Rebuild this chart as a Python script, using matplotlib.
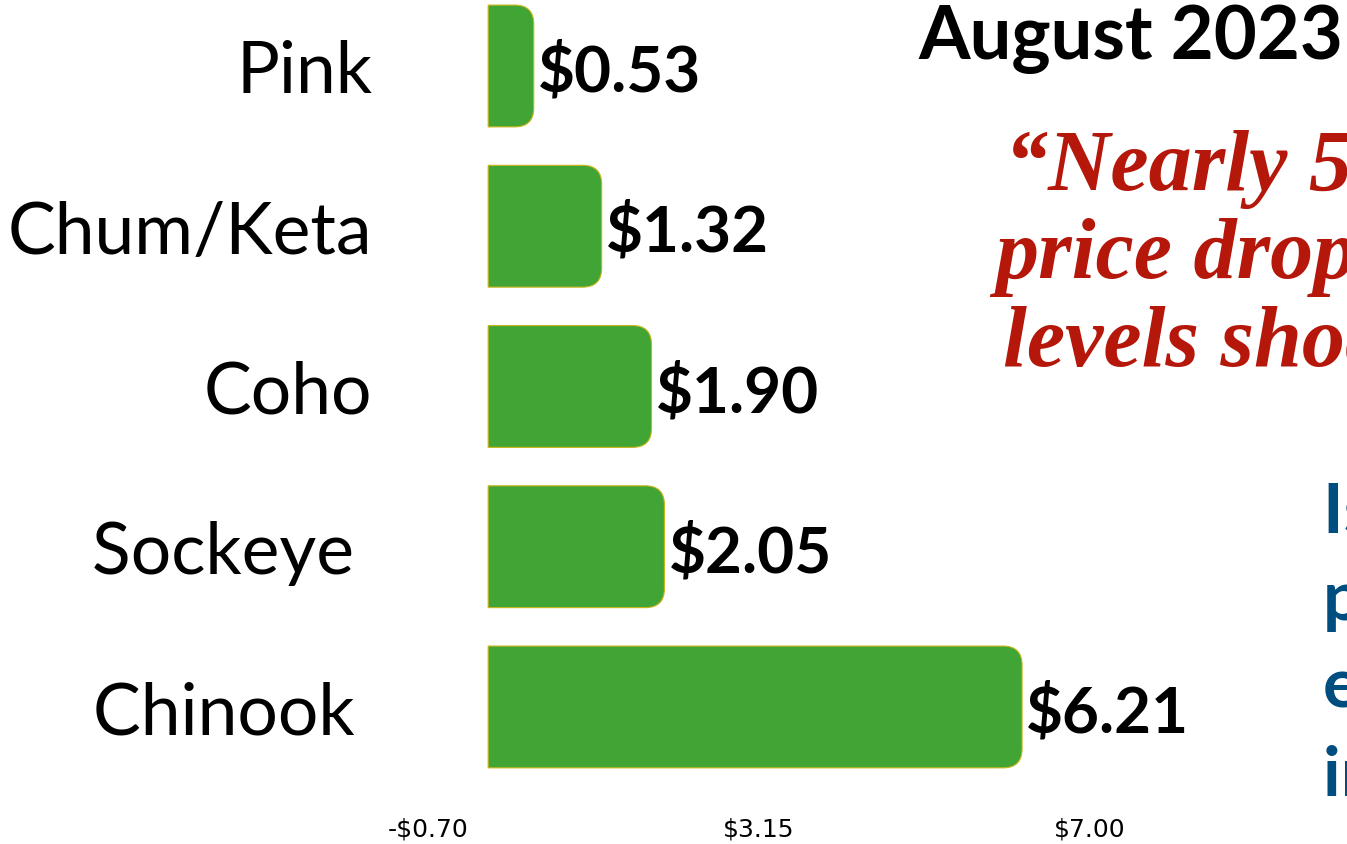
import numpy as np
import matplotlib
matplotlib.use("Agg")
import matplotlib.pyplot as plt
from matplotlib.path import Path
from matplotlib.patches import PathPatch

species = ["Pink", "Chum/Keta", "Coho", "Sockeye ", "Chinook "]
prices = [0.53, 1.32, 1.90, 2.05, 6.21]
xticks = [-0.70, 3.15, 7.00]
xtick_labels = ["-$0.70", "$3.15", "$7.00"]

title = "August 2023"
quote_lines = ["\u201cNearly 50% ", "price drop from", "levels shocking\u201d"]
note_lines = ["Is this", "price", "effect", "in line"]

GREEN = "#41a536"
EDGE = "#c9b41a"
RED = "#b5170a"
BLUE = "#004d80"

W, H = 1347, 845
fig = plt.figure(figsize=(W / 100, H / 100), dpi=100)
ax = fig.add_axes([428 / W, 55 / H, 662 / W, 790 / H])
ax.set_xlim(-0.70, 7.00)
ax.set_ylim(-0.512, 4.418)

ypos = np.arange(len(species))[::-1]
bar_h = 0.76

# pixel -> data scale for the rounded right corners
px_x = (7.00 + 0.70) / 662
px_y = (4.418 + 0.512) / 790
r = 19
rx, ry = r * px_x, r * px_y

for y, v in zip(ypos, prices):
    y0, y1 = y - bar_h / 2, y + bar_h / 2
    verts = [(0, y0), (v - rx, y0), (v, y0), (v, y0 + ry), (v, y1 - ry),
             (v, y1), (v - rx, y1), (0, y1), (0, y0)]
    codes = [Path.MOVETO, Path.LINETO, Path.CURVE3, Path.CURVE3, Path.LINETO,
             Path.CURVE3, Path.CURVE3, Path.LINETO, Path.CLOSEPOLY]
    ax.add_patch(PathPatch(Path(verts, codes), facecolor=GREEN,
                           edgecolor=EDGE, linewidth=0.8))
    ax.text(v + 4 * px_x, y, f"${v:.2f}", ha="left", va="center_baseline",
            fontsize=46, fontweight="bold", family="Lato", color="black")

ax.set_yticks(ypos)
ax.set_yticklabels(species, fontsize=51.5, family="Lato")
ax.tick_params(axis="y", length=0, pad=40)
ax.set_xticks(xticks)
ax.set_xticklabels(xtick_labels, fontsize=18, family="DejaVu Sans")
ax.tick_params(axis="x", length=0, pad=20)
for s in ax.spines.values():
    s.set_visible(False)

fig.text(918 / W, 1 - 59 / H, title, ha="left", va="baseline",
         fontsize=53.5, fontweight="bold", family="Lato")

quote_x = [1005, 995, 1003]
for i, line in enumerate(quote_lines):
    fig.text(quote_x[i] / W, 1 - (190 + 88 * i) / H, line, ha="left",
             va="baseline", fontsize=62, fontweight="bold", style="italic",
             family="Liberation Serif", color=RED)

for i, line in enumerate(note_lines):
    fig.text(1323 / W, 1 - (533 + 87.5 * i) / H, line, ha="left",
             va="baseline", fontsize=50, fontweight="bold", family="Lato",
             color=BLUE)

fig.savefig("out.png", dpi=100)
